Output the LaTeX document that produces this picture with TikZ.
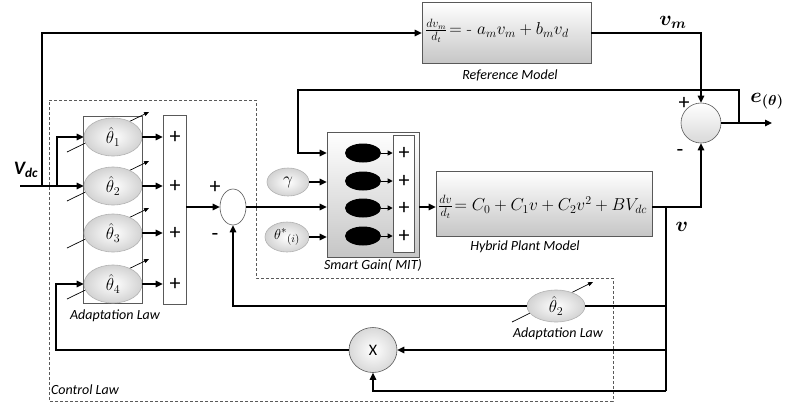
\documentclass[tikz,border=0pt]{standalone}
\usepackage{amsmath}
\usepackage{fontspec}
\setsansfont{Carlito}
\usetikzlibrary{arrows.meta,shapes.geometric,calc}
\tikzset{
 conn/.style={line width=1.2pt, -{Triangle[length=7pt,width=6.5pt]}},
 sconn/.style={line width=1pt, -{Triangle[length=5pt,width=5pt]}},
 wire/.style={line width=1.2pt},
 boxg/.style={draw=gray!70!black, line width=0.6pt, top color=white, bottom color=gray!45, rectangle, inner sep=0pt},
 plainbox/.style={draw=gray!70!black, line width=0.6pt, fill=white, rectangle, inner sep=0pt},
 gell/.style={ellipse, draw=gray!60, line width=0.6pt, inner color=white, outer color=gray!35, inner sep=0pt, font=\fontsize{18}{20}\selectfont},
 bell/.style={ellipse, fill=black, inner sep=0pt, minimum width=36pt, minimum height=19pt},
 lbl/.style={font=\sffamily\itshape\fontsize{14}{16}\selectfont, inner sep=0pt},
 adj/.style={line width=0.7pt},
 adjt/.style={line width=0.7pt, -{Triangle[length=5pt,width=4pt]}},
 pl/.style={font=\sffamily\fontsize{22}{24}\selectfont, inner sep=0pt},
 big/.style={font=\fontsize{21}{24}\selectfont, inner sep=0pt},
 eqn/.style={font=\fontsize{17}{20}\selectfont, inner sep=0pt, anchor=west},
}
\begin{document}
\begin{tikzpicture}[x=1pt,y=-1pt]
\useasboundingbox (0,0) rectangle (788,405);

% control law dashed region
\draw[dash pattern=on 3pt off 2pt, gray!70!black, line width=0.6pt]
  (49,100) -- (256,100) -- (256,278) -- (613,278) -- (613,401) -- (49,401) -- cycle;

% reference model
\node[boxg, minimum width=169pt, minimum height=61pt] (refm) at (506.5,33) {};
\node[eqn] (refeq) at (425,31) {$\frac{dv_m}{d_t}\!=$ - $a_m v_m + b_m v_d$};
\node[lbl] (reflbl) at (510,75) {Reference Model};

% adaptation block
\node[plainbox, minimum width=59pt, minimum height=187pt] (adblk) at (112.5,209.5) {};
\coordinate (c1) at (113,137);
\coordinate (c2) at (113,186);
\coordinate (c3) at (113,233);
\coordinate (c4) at (113,284);
\foreach \c in {c1,c2,c3,c4}{
  \draw[adj] ($(\c)+(-46,15)$) -- ($(\c)+(-22,3.3)$);
  \draw[adjt] ($(\c)+(14,-14.3)$) -- ($(\c)+(36,-25)$);
}
\node[gell, minimum width=58pt, minimum height=38pt] (a1) at (c1) {$\hat{\theta}_1$};
\node[gell, minimum width=58pt, minimum height=38pt] (a2) at (c2) {$\hat{\theta}_2$};
\node[gell, minimum width=58pt, minimum height=38pt] (a3) at (c3) {$\hat{\theta}_3$};
\node[gell, minimum width=58pt, minimum height=38pt] (a4) at (c4) {$\hat{\theta}_4$};
\node[lbl] (adlbl) at (115,316) {Adaptation Law};

% plus column
\node[plainbox, minimum width=23pt, minimum height=189pt] (pbox) at (174.5,209.5) {};
\node[pl] (p1) at (175,137) {+};
\node[pl] (p2) at (175,186) {+};
\node[pl] (p3) at (175,233) {+};
\node[pl] (p4) at (175,284) {+};
\foreach \a in {a1,a2,a3,a4}{
  \draw[conn] (\a.east) -- (\a.east -| pbox.west);
}

% summing junction 1
\node[ellipse, draw=gray!70!black, line width=0.6pt, fill=white, minimum width=26pt, minimum height=36pt, inner sep=0pt] (s1) at (233,207) {};
\node[pl] (s1p) at (215,187) {+};
\node[pl] (s1m) at (215,237) {-};
\draw[conn] (pbox.east |- s1.west) -- (s1.west);

% gamma and theta*
\node[gell, minimum width=42pt, minimum height=28pt, font=\fontsize{16}{18}\selectfont] (gam) at (288,182) {$\gamma$};
\node[gell, minimum width=44pt, minimum height=30pt, font=\fontsize{15}{17}\selectfont] (ths) at (287,237) {$\theta^{*}{}_{(i)}$};

% smart gain
\node[boxg, minimum width=92pt, minimum height=125pt] (sg) at (373,194.5) {};
\node[plainbox, minimum width=21pt, minimum height=117pt] (sgp) at (403.5,193.5) {};
\node[bell] (k1) at (363,153) {};
\node[bell] (k2) at (363,181) {};
\node[bell] (k3) at (363,208) {};
\node[bell] (k4) at (363,236) {};
\node[pl] (q1) at (404,153) {+};
\node[pl] (q2) at (404,181) {+};
\node[pl] (q3) at (404,208) {+};
\node[pl] (q4) at (404,236) {+};
\foreach \k in {k1,k2,k3,k4}{
  \draw[sconn] (\k.east) -- (\k.east -| sgp.west);
}
\node[lbl] (sglbl) at (373,265) {Smart Gain( MIT)};
\draw[conn] (gam.east) -- (gam.east -| sg.west);
\draw[conn] (ths.east) -- (ths.east -| sg.west);
\draw[conn] (s1.east) -- (s1.east -| sg.west);

% plant
\node[boxg, minimum width=216pt, minimum height=65pt] (pl) at (544,203.5) {};
\node[eqn] (pleq) at (438,207) {$\frac{dv}{d_t}\!= C_0 + C_1 v + C_2 v^2 + BV_{dc}$};
\node[lbl] (pllbl) at (525,247) {Hybrid Plant Model};
\draw[conn] (sg.east |- s1.east) -- (pl.west |- s1.east);

% error junction
\node[circle, draw=gray!70!black, line width=0.6pt, top color=white, bottom color=gray!30, minimum size=40pt, inner sep=0pt] (s2) at (701,123) {};
\node[pl] (s2p) at (684,103) {+};
\node[pl] (s2m) at (680,153) {-};
\draw[conn] (refm.east) -| (s2.north);
\node[big] (vm) at (673,22) {$\boldsymbol{v_m}$};
\draw[conn] (pl.east |- s1.east) -| (s2.south);
\coordinate (eout) at (772,123);
\draw[conn] (s2.east) -- (eout);
\node[big] (elbl) at (767,101) {$\boldsymbol{e_{(\theta)}}$};
\coordinate (fb) at (739,123);
\draw[conn] (fb) |- (298,90) |- (k1 -| sg.west);

% v branches
\node[big] (vlbl) at (682,227) {$\boldsymbol{v}$};
\coordinate (vj) at (666,207);
\coordinate (vb1) at (666,306);
\coordinate (vb2) at (666,350);
\coordinate (vb3) at (666,391);
\draw[wire] (vj) -- (vb3);

\coordinate (cb2) at (556,306);
\draw[adj] ($(cb2)+(-44,16)$) -- ($(cb2)+(-22,5.1)$);
\draw[adjt] ($(cb2)+(14,-12.6)$) -- ($(cb2)+(37,-24)$);
\node[gell, minimum width=58pt, minimum height=32pt] (b2) at (cb2) {$\hat{\theta}_2$};
\node[lbl] (adlbl2) at (558,334) {Adaptation Law};
\draw[wire] (vb1) -- (b2.east);
\draw[conn] (b2.west) -| (s1.south);

\node[ellipse, draw=gray!70!black, line width=0.6pt, inner color=white, outer color=gray!30, minimum width=48pt, minimum height=45pt, inner sep=0pt, font=\sffamily\fontsize{16}{18}\selectfont] (X) at (373,350) {X};
\draw[conn] (vb2) -- (X.east);
\draw[conn] (vb3) -| (X.south);
\draw[conn] (X.west) -- (56,350) |- (a4.west);

% Vdc input
\coordinate (vin) at (20,186);
\coordinate (vj1) at (42,186);
\coordinate (vj2) at (57,186);
\node[font=\sffamily\bfseries\itshape\fontsize{19}{21}\selectfont, inner sep=0pt] (vdc) at (26,170) {V\textsubscript{dc}};
\draw[conn] (vin) -- (a2.west);
\draw[conn] (vj1) |- (refm.west);
\draw[conn] (vj2) |- (a1.west);

\node[lbl] (cllbl) at (85,390) {Control Law};
\end{tikzpicture}
\end{document}
